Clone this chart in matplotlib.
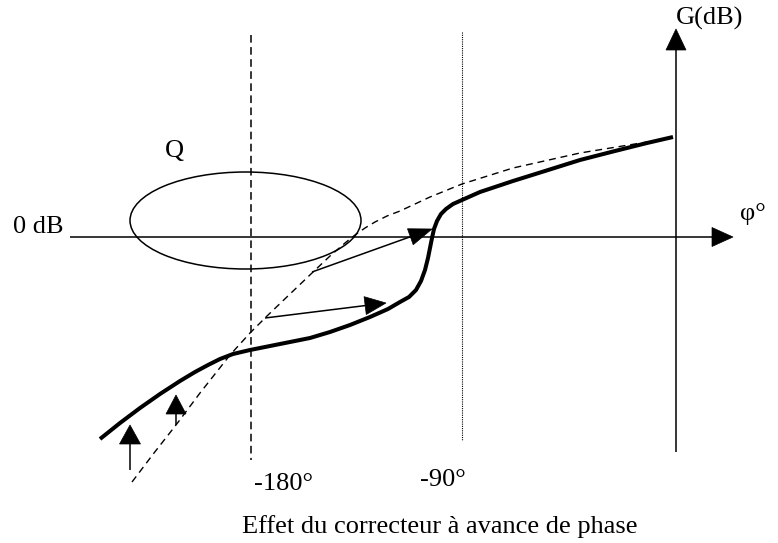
import matplotlib

matplotlib.use("Agg")

import matplotlib.pyplot as plt
import numpy as np
from matplotlib.patches import Ellipse, Polygon


WIDTH = 778
HEIGHT = 543
DPI = 100
INK = "black"
SERIF = "Liberation Serif"

plt.rcParams["lines.scale_dashes"] = False

# Sketch coordinates are laid out in pixels, y growing downwards.
# Uncorrected locus (dashed).
open_x = [132, 154, 176, 200, 230, 250, 267, 290, 312, 330, 345, 355,
          365, 375, 387, 400, 430, 462, 513, 580, 647, 673]
open_y = [482, 453, 425, 393, 355, 333, 316, 294, 273, 256, 243, 235,
          228, 222, 216, 211, 197, 184, 168, 153, 142, 138]

# Locus with the phase-lead corrector (thick).
lead_x = [100, 120, 140, 160, 180, 195, 208, 220, 233, 250, 270, 290,
          310, 330, 350, 370, 388, 400, 409, 416, 421, 425, 428, 430,
          432, 434, 437, 441, 446, 453, 462, 480, 513, 545, 580, 615,
          647, 673]
lead_y = [439, 423, 408, 394, 381, 372, 365, 359, 354, 350, 346, 342,
          338, 332, 325, 317, 309, 302, 297, 290, 281, 270, 258, 248,
          238, 229, 221, 214, 209, 204, 200, 192, 181, 171, 160, 151,
          143, 137]

# Correction arrows: (start, tip).
shift_arrows = [
    ((130, 470), (130, 425)),
    ((176, 425), (176, 395)),
    ((265, 318), (386, 303)),
    ((312, 272), (432, 229)),
]
shift_heads = [(19, 10.5), (19, 10), (21, 9), (23, 8.5)]

# Reference lines.
phase_180_x = 251
phase_90_x = 462
zero_db_y = 237
gain_axis_x = 676

# Tolerance region Q around the critical point.
q_center = (245.5, 220.5)
q_size = (231, 97)


def arrow(ax, start, tip, head_len, half_w, *, lw=1.1):
    start = np.asarray(start, dtype=float)
    tip = np.asarray(tip, dtype=float)
    d = tip - start
    u = d / np.hypot(*d)
    n = np.array([-u[1], u[0]])
    base = tip - u * head_len
    ax.plot([start[0], base[0] + u[0]], [start[1], base[1] + u[1]],
            color=INK, lw=lw, solid_capstyle="butt", zorder=4)
    ax.add_patch(Polygon([tip, base + n * half_w, base - n * half_w],
                         closed=True, facecolor=INK, edgecolor=INK,
                         lw=0.5, zorder=5))


def main():
    fig = plt.figure(figsize=(WIDTH / DPI, HEIGHT / DPI), dpi=DPI,
                     facecolor="white")
    ax = fig.add_axes([0, 0, 1, 1])
    ax.set_xlim(0, WIDTH)
    ax.set_ylim(HEIGHT, 0)
    ax.axis("off")

    # Axes of the Black plane.
    arrow(ax, (70, zero_db_y), (733, zero_db_y), 21, 9.5)
    arrow(ax, (gain_axis_x, 452), (gain_axis_x, 29), 21, 10)

    # -180 and -90 verticals.
    ax.plot([phase_180_x, phase_180_x], [35, 460], color=INK, lw=1.1,
            dashes=(5.5, 3.2))
    ax.plot([phase_90_x, phase_90_x], [32, 440], color=INK, lw=0.8,
            dashes=(0.8, 0.8))

    ax.add_patch(Ellipse(q_center, q_size[0], q_size[1], facecolor="none",
                         edgecolor=INK, lw=1.1, zorder=3))

    ax.plot(open_x, open_y, color=INK, lw=1.0, dashes=(5, 3.5), zorder=3)
    ax.plot(lead_x, lead_y, color=INK, lw=2.9, solid_capstyle="butt",
            solid_joinstyle="round", zorder=4)

    for (start, tip), (hl, hw) in zip(shift_arrows, shift_heads):
        arrow(ax, start, tip, hl, hw)

    text = dict(family=SERIF, fontsize=19, color=INK)
    ax.text(676, 18, "G(dB)", ha="left", va="center", **text)
    ax.text(740, 214, "φ°", ha="left", va="center", **text)
    ax.text(13, 227, "0 dB", ha="left", va="center", **text)
    ax.text(174, 151, "Q", ha="center", va="center", **text)
    ax.text(284, 484, "-180°", ha="center", va="center", **text)
    ax.text(443, 480, "-90°", ha="center", va="center", **text)
    ax.text(440, 527, "Effet du correcteur à avance de phase",
            ha="center", va="center", **text)

    fig.savefig("out.png", dpi=DPI, facecolor="white")
    plt.close(fig)


if __name__ == "__main__":
    main()
